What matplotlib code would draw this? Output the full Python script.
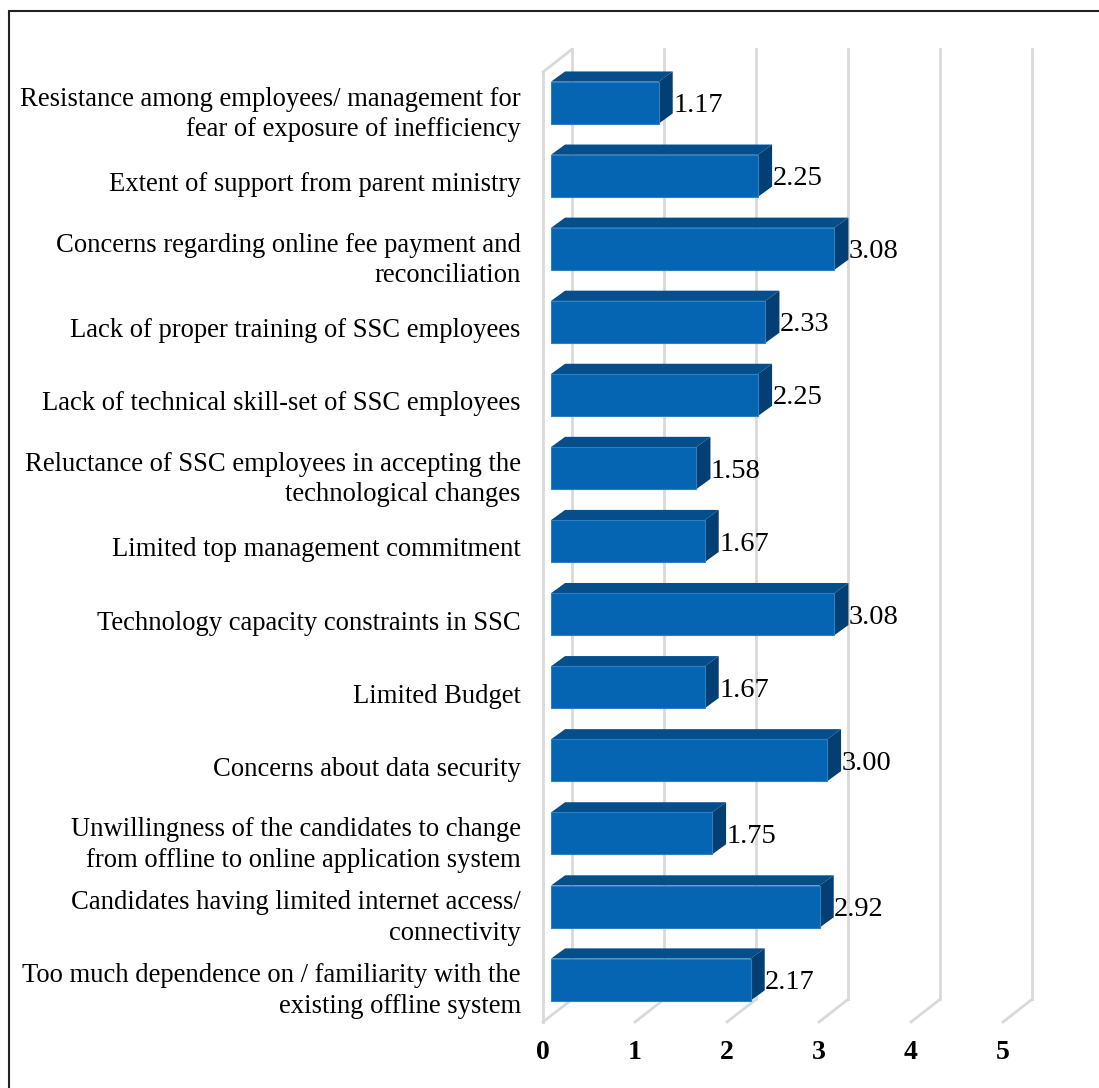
import matplotlib.pyplot as plt
from matplotlib.patches import Polygon, Rectangle

plt.rcParams['font.family'] = ['Liberation Serif', 'DejaVu Serif']

labels = [
    "Resistance among employees/ management for\nfear of exposure of inefficiency",
    "Extent of support from parent ministry",
    "Concerns regarding online fee payment and\nreconciliation",
    "Lack of proper training of SSC employees",
    "Lack of technical skill-set of SSC employees",
    "Reluctance of SSC employees in accepting the\ntechnological changes",
    "Limited top management commitment",
    "Technology capacity constraints in SSC",
    "Limited Budget",
    "Concerns about data security",
    "Unwillingness of the candidates to change\nfrom offline to online application system",
    "Candidates having limited internet access/\nconnectivity",
    "Too much dependence on / familiarity with the\nexisting offline system",
]
scores = [1.17, 2.25, 3.08, 2.33, 2.25, 1.58, 1.67, 3.08, 1.67, 3.00, 1.75, 2.92, 2.17]
xticks = [0, 1, 2, 3, 4, 5]

front_col = '#0565b2'
top_col = '#044e8c'
side_col = '#033f72'
grid_col = '#d9d9d9'

# pseudo-3D offsets in data units (x: value, y: category)
wall_dx, wall_dy = 0.315, -0.31
bar_fx, bar_fy = 0.087, -0.08
bar_bx, bar_by = 0.24, -0.22
bar_h = 0.575

fig = plt.figure(figsize=(10.99, 10.88), dpi=100)
ax = fig.add_axes([543 / 1099, 1 - 1022 / 1088, 460 / 1099, 950 / 1088])
n = len(labels)
ax.set_xlim(0, 5)
ax.set_ylim(n - 0.5, -0.5)
for s in ax.spines.values():
    s.set_visible(False)

# back wall gridlines and floor edges
y_top, y_bot = -0.5, n - 0.5
for v in xticks:
    ax.plot([v + wall_dx, v + wall_dx], [y_top + wall_dy, y_bot + wall_dy],
            color=grid_col, lw=2, clip_on=False, zorder=1)
    ax.plot([v, v + wall_dx], [y_bot, y_bot + wall_dy],
            color=grid_col, lw=2, clip_on=False, zorder=1)
# side wall edge
ax.plot([0, 0], [y_top, y_bot], color=grid_col, lw=2, clip_on=False, zorder=1)
ax.plot([0, wall_dx], [y_top, y_top + wall_dy], color=grid_col, lw=2,
        clip_on=False, zorder=1)

for i, v in enumerate(scores):
    y0 = i + bar_fy - bar_h / 2
    y1 = i + bar_fy + bar_h / 2
    x0 = bar_fx
    x1 = bar_fx + v
    ddx = bar_bx - bar_fx
    ddy = bar_by - bar_fy
    ax.add_patch(Polygon([(x0, y0), (x1, y0), (x1 + ddx, y0 + ddy), (x0 + ddx, y0 + ddy)],
                         closed=True, fc=top_col, ec='none', zorder=3, clip_on=False))
    ax.add_patch(Polygon([(x1, y0), (x1 + ddx, y0 + ddy), (x1 + ddx, y1 + ddy), (x1, y1)],
                         closed=True, fc=side_col, ec='none', zorder=3, clip_on=False))
    ax.barh(i + bar_fy, v, left=x0, height=bar_h, color=front_col,
            edgecolor='#2f7fc4', linewidth=0.8, zorder=4, clip_on=False)
    ax.text(x1 + ddx + 0.005, i + bar_fy + 0.04, f"{v:.2f}", ha='left', va='center',
            fontsize=20.5, zorder=5)

ax.set_yticks(range(n))
ax.set_yticklabels(labels, fontsize=19.2, multialignment='right', linespacing=1.28)
ax.set_xticks(xticks)
ax.set_xticklabels([str(t) for t in xticks], fontsize=20, fontweight='bold')
ax.tick_params(axis='both', length=0)
ax.tick_params(axis='y', pad=16)
ax.tick_params(axis='x', pad=13)

# outer frame
fig.patches.append(Rectangle((9 / 1099, -0.05), 1.2, 1 - 11 / 1088 + 0.05,
                             transform=fig.transFigure, fill=False,
                             ec='#222222', lw=1.5))

fig.savefig('out.png', dpi=100)
